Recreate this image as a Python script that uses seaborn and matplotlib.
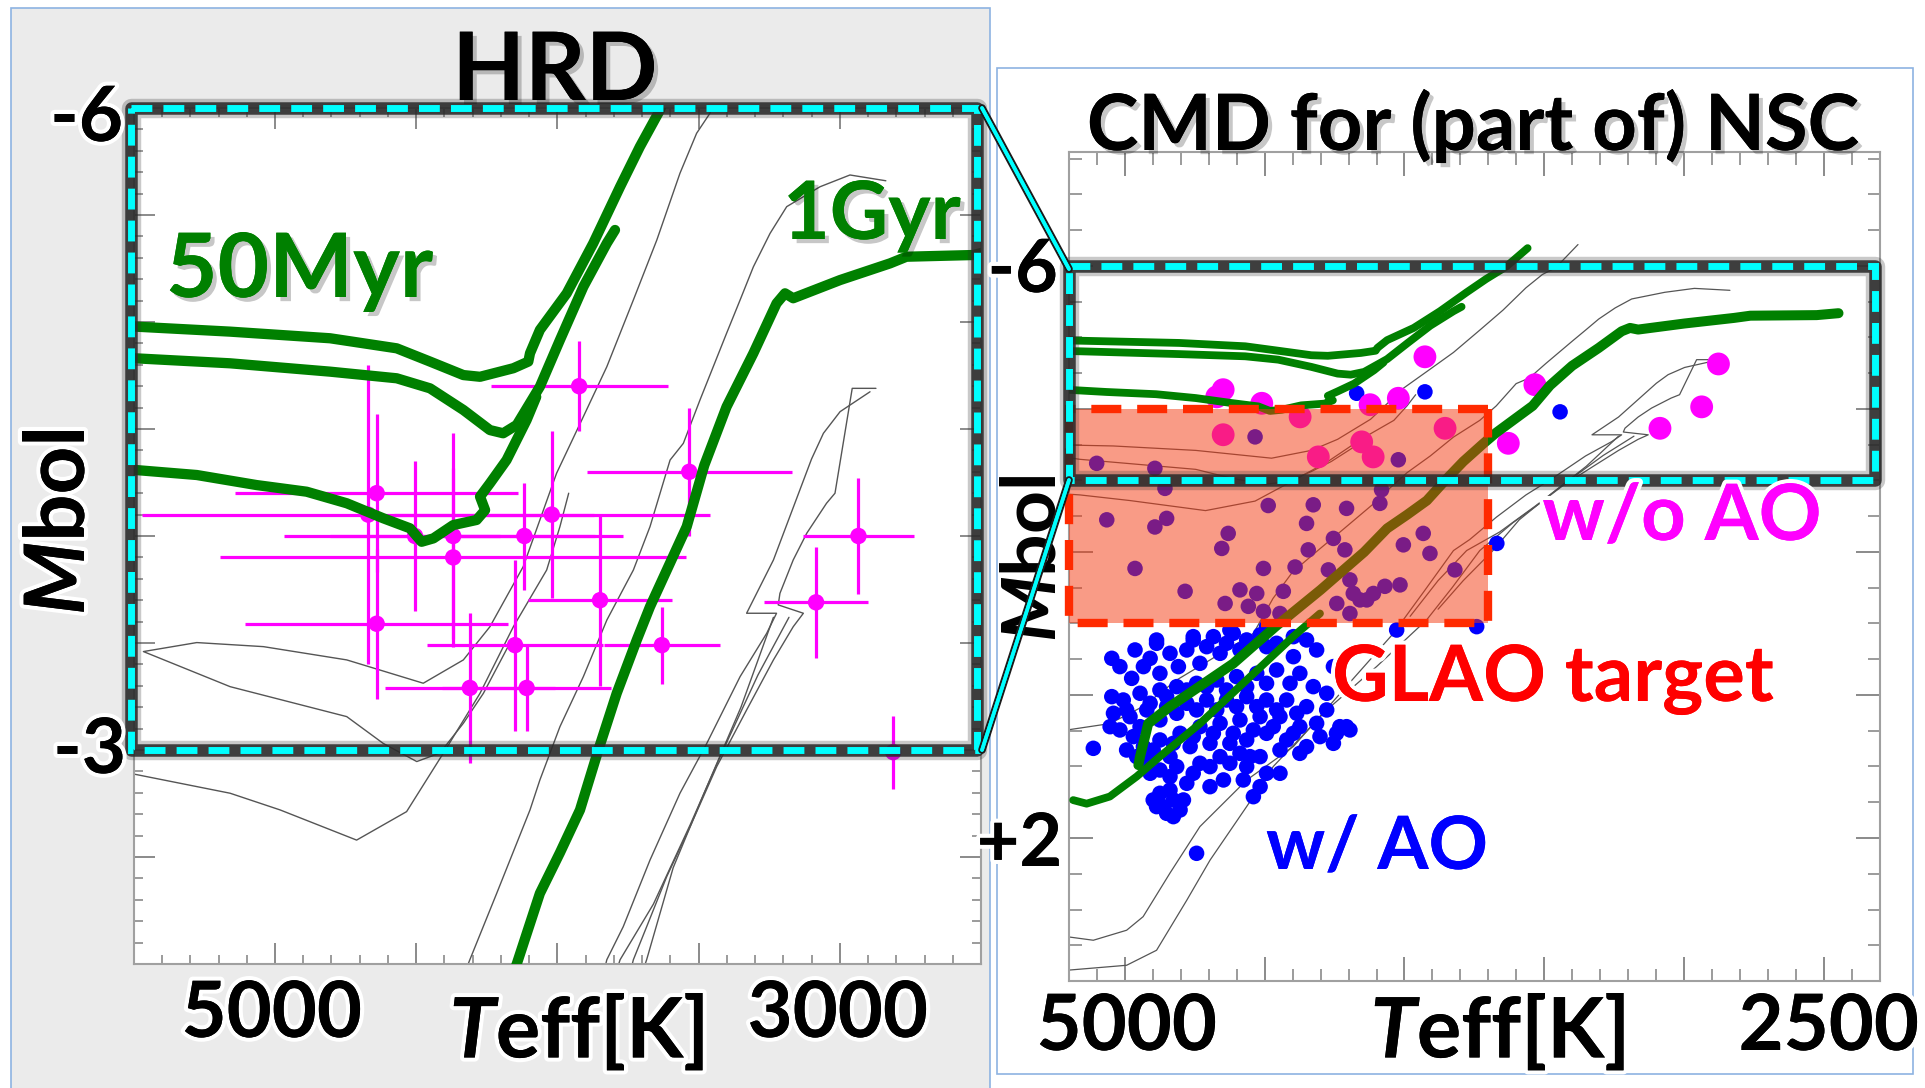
import matplotlib
matplotlib.use("Agg")
import numpy as np
import pandas as pd
import matplotlib.pyplot as plt
import seaborn as sns
import matplotlib.patheffects as pe
from matplotlib.patches import Rectangle
from matplotlib.lines import Line2D
from matplotlib.ticker import MultipleLocator

# ---------------------------------------------------------------- data
# 50 Myr isochrones (Teff [K], Mbol)
iso50a_T = [5520, 5490, 5159, 4805, 4569, 4451, 4333, 4274, 4156, 4103, 4097, 4062, 3967, 3873, 3778, 3708, 3637, 3560]
iso50a_M = [-4.98, -4.978, -4.955, -4.924, -4.877, -4.815, -4.752, -4.744, -4.784, -4.815, -4.854, -4.963, -5.134, -5.368, -5.632, -5.819, -5.99, -6.25]
iso50b_T = [5520, 5490, 5159, 4805, 4569, 4451, 4333, 4239, 4192, 4144, 4062, 3991, 3908, 3825, 3796]
iso50b_M = [-4.832, -4.830, -4.807, -4.768, -4.737, -4.690, -4.589, -4.495, -4.480, -4.519, -4.698, -4.916, -5.165, -5.368, -5.430]
iso50c_T = [5520, 5490, 5277, 5065, 4888, 4746, 4617, 4522, 4481, 4439, 4369, 4286, 4256, 4274, 4239, 4180, 4109, 4075]
iso50c_M = [-4.31, -4.308, -4.285, -4.238, -4.207, -4.153, -4.083, -4.036, -3.973, -3.989, -4.051, -4.075, -4.121, -4.184, -4.246, -4.355, -4.542, -4.65]
# 1 Gyr isochrone
iso1g_T = [2449, 2527, 2764, 2822, 2999, 3165, 3194, 3224, 3306, 3401, 3480, 3542, 3672, 3719, 3790, 3855, 3920, 3991,
           4062, 4144, 4300, 4460, 4612, 4838, 4916, 4927, 4945, 4951]
iso1g_M = [-5.34, -5.313, -5.305, -5.274, -5.196, -5.111, -5.134, -5.087, -4.854, -4.604, -4.33, -4.044, -3.670, -3.514,
           -3.265, -3.0, -2.72, -2.52, -2.33, -2.0, -1.47, -0.96, -0.44, 0.16, 0.40, 0.58, 0.86, 0.98]
iso1g_b_T = [5184, 5136, 5053, 4957, 4874, 4731, 4564, 4397, 4302]
iso1g_b_M = [1.47, 1.52, 1.42, 1.14, 0.86, 0.40, -0.21, -0.82, -1.14]

# thin grey model isochrones
grey1_T = [3380, 3460, 3507, 3566, 3648, 3731, 3825, 3908, 4003, 4121, 4239, 4333, 4475, 4746, 5041, 5277, 5466,
           5159, 4746, 4617, 4498, 4416, 4333, 4262, 4160]
grey1_M = [-6.3, -5.975, -5.882, -5.695, -5.383, -5.103, -4.791, -4.558, -4.293, -3.857, -3.576, -3.421, -3.312, -3.421,
           -3.483, -3.502, -3.460, -3.296, -3.156, -3.031, -2.946, -2.986, -3.125, -3.265, -3.52]
grey2_T = [2837, 2964, 3070, 3188, 3247, 3306, 3353, 3401, 3495, 3554, 3601, 3672, 3731, 3825, 3908, 3991, 4062, 4097,
           4215, 4310, 4400, 4470, 4540, 4695, 4814, 4934, 5053, 5207]
grey2_M = [-5.66, -5.687, -5.632, -5.539, -5.414, -5.258, -5.103, -4.947, -4.636, -4.433, -4.355, -4.044, -3.841, -3.607,
           -3.343, -3.109, -2.86, -2.72, -2.33, -2.02, -1.72, -1.35, -0.86, -0.49, -0.21, 0.16, 0.40, 0.49]
grey3_T = [5520, 5513, 5159, 4982, 4711, 4534, 4404, 4274, 4156, 4038, 3991, 3960]
grey3_M = [-2.90, -2.891, -2.798, -2.72, -2.579, -2.712, -2.985, -3.265, -3.576, -3.841, -4.044, -4.2]
grey4_T = [2893, 2999, 3058, 3100, 3235, 3330, 3224, 3259, 3353, 3471, 3566, 3672, 3767, 3825, 3930, 4040, 4219, 4397,
           4564, 4731, 4838, 4934, 4993, 5112, 5207]
grey4_M = [-4.674, -4.581, -4.48, -4.36, -3.888, -3.639, -3.639, -3.545, -3.343, -3.031, -2.798, -2.486, -2.174, -2.02,
           -1.45, -0.86, -0.07, 0.72, 1.19, 1.84, 2.49, 3.10, 3.29, 3.43, 3.38]
grey5_T = [2872, 2956, 3017, 3047, 3117, 3165, 3212, 3218, 3129, 3165, 3235, 3330, 3436, 3530, 3613, 3684, 3731, 3830,
           3921, 4099, 4278, 4469, 4564, 4695, 4778, 4886, 4993, 5207]
grey5_M = [-4.69, -4.69, -4.2, -4.153, -4.013, -3.888, -3.732, -3.678, -3.639, -3.576, -3.421, -3.187, -2.922, -2.642,
           -2.408, -2.174, -2.02, -1.5, -1.05, -0.40, 0.21, 1.00, 1.56, 2.31, 2.87, 3.57, 3.78, 3.85]
grey6_T = [3180, 3290, 3420, 3530, 3660, 3778, 3880, 3980]
grey6_M = [-3.62, -3.35, -2.98, -2.65, -2.28, -2.02, -1.6, -1.1]
grey7_T = [3235, 3350, 3480, 3590, 3684, 3790, 3880]
grey7_M = [-3.62, -3.2, -2.8, -2.45, -2.02, -1.6, -1.2]

# HRD stars with error bars (left panel)
hrd_T = [4640, 4369, 4369, 4117, 4020, 4640, 4150, 4310, 4109, 4504, 4670, 3849, 3630, 3923, 3533, 2934, 3084, 2811]
hrd_M = [-4.20, -4.00, -3.90, -4.00, -4.10, -3.59, -3.49, -3.29, -3.29, -4.00, -4.10, -3.70, -3.49, -4.70, -4.30, -4.00, -3.69, -2.99]
hrd_Terr = [500, 600, 825, 250, 560, 465, 310, 300, 300, 300, 800, 255, 206, 313, 363, 195, 185, 0]
hrd_Merr = [0.37, 0.48, 0.42, 0.25, 0.39, 0.35, 0.40, 0.35, 0.20, 0.35, 0.70, 0.40, 0.18, 0.21, 0.30, 0.27, 0.26, 0.17]

# CMD stars without AO (magenta)
noao_T = [3927, 4648, 4671, 4510, 4373, 4123, 4022, 4648, 4308, 4153, 4112, 3855, 3534, 3629, 2878, 2938, 3087]
noao_M = [-4.73, -4.27, -4.17, -4.08, -3.89, -4.06, -4.15, -3.64, -3.33, -3.54, -3.33, -3.73, -4.34, -3.52, -4.63, -4.03, -3.73]

# CMD stars with AO (blue)
ao_T = [5046, 4963, 4886, 4909, 4755, 4683, 4612, 4516, 4397, 4314, 4975, 4874, 4808, 4731, 4659, 4588, 4493, 4397,
        5046, 5005, 4945, 4874, 4814, 4743, 4671, 4600, 4528, 4457, 4374, 4278, 5040, 4981, 4921, 4850, 4778, 4707,
        4636, 4564, 4493, 4421, 4350, 4278, 4207, 5112, 5017, 4969, 4933, 4874, 4802, 4731, 4659, 4588, 4516, 4445,
        4374, 4302, 4254, 4993, 4921, 4838, 4766, 4695, 4624, 4564, 4493, 4421, 4350, 4874, 4814, 4731, 4659, 4588,
        4552, 4493, 4647, 4778, 4874, 4826, 4886, 4850, 4802, 4540, 4743, 4231,
        4886, 4755, 4624, 4493, 4028, 3742, 4171, 3927, 3444, 3670,
        5100, 4892, 4856, 5064, 4892, 4850, 4630, 4653, 4487, 4326, 4207, 4088, 4082, 4350, 4254, 4344, 4213, 4963,
        4504, 4391, 4272, 4784, 4588, 4528, 4433, 4641, 4558, 4504, 4445, 4004, 3933, 3909, 3820, 4022, 4534, 4195,
        4183, 4159, 4111, 4070, 4016, 4135, 4242, 4195,
        5017, 4933, 4838, 4778, 4707, 4636, 4564, 4457, 4350, 4254, 4326, 4409, 4493, 4564, 4636, 4707, 4778, 4850,
        4909, 4993, 5052, 4945, 4874, 4814, 4743, 4671, 4600, 4528, 4457, 4385, 4314, 4243, 4195, 4397, 4469, 4540,
        4612, 4683, 4755, 4826, 4898, 4957, 4909, 4838, 4755, 4695, 4624, 4516, 4445, 4374, 4564, 4695, 4838, 4898,
        4790, 4862, 4826, 4516, 4445, 4576]
ao_M = [-0.513, -0.630, -0.723, -0.513, -0.770, -0.816, -0.863, -0.840, -0.816, -0.630, -0.233, -0.303, -0.397, -0.443,
        -0.583, -0.630, -0.676, -0.536, 0.023, 0.070, -0.024, -0.070, -0.117, -0.163, -0.210, -0.257, -0.303, -0.350,
        -0.303, -0.024, 0.256, 0.303, 0.209, 0.163, 0.116, 0.070, 0.070, 0.023, 0.070, 0.070, 0.163, 0.209, 0.443,
        0.746, 0.489, 0.582, 0.722, 0.629, 0.536, 0.443, 0.396, 0.349, 0.303, 0.303, 0.443, 0.582, 0.676, 0.769,
        0.909, 0.862, 0.722, 0.676, 0.676, 0.629, 0.536, 0.629, 0.722, 1.049, 1.002, 0.955, 0.862, 0.816, 0.862,
        1.095, 1.188, 1.235, 1.375, 1.468, 1.561, 1.655, 1.608, 1.422, 2.214, 0.443,
        -0.769, -0.816, -0.909, -0.956, -0.909, -0.956, -4.22, -4.24, -3.96, -2.12,
        -3.24, -3.17, -2.89, -2.45, -2.35, -2.47, -2.26, -2.05, -2.65, -2.66, -2.61, -2.68, -2.87, -2.40, -2.19,
        -2.03, -2.03, -1.77, -1.77, -1.79, -1.75, -1.45, -1.47, -1.42, -1.45, -1.28, -1.24, -1.17, -1.14, -2.10,
        -2.26, -1.98, -1.75, -3.29, -3.61, -1.61, -1.42, -1.33, -1.42, -1.52, -1.54, -1.33, -1.28, -1.14,
        -0.397, -0.397, -0.583, -0.630, -0.676, -0.723, -0.770, -0.723, -0.770, -0.397, -0.117, -0.163, -0.163,
        -0.117, -0.070, -0.117, -0.070, 0.023, 0.116, 0.209, 0.443, 0.443, 0.349, 0.256, 0.209, 0.209, 0.163,
        0.163, 0.209, 0.256, 0.396, 0.536, 0.489, 0.536, 0.443, 0.489, 0.536, 0.536, 0.582, 0.676, 0.769, 0.862,
        1.095, 1.142, 1.095, 1.002, 0.955, 0.862, 0.769, 0.816, 1.002, 1.282, 1.329, 1.468, 1.468, 1.561, 1.701,
        1.282, 1.095, 1.188]

# GLAO target region (Teff range, Mbol range) and zoom window
glao_T = [5200, 3700]
glao_M = [-4.0, -1.0]
zoom_M = [-6.0, -3.0]

# ---------------------------------------------------------------- style
sns.set_theme(style="white")
plt.rcParams['font.family'] = ['Lato', 'DejaVu Sans']
plt.rcParams['font.weight'] = 'bold'
plt.rcParams['mathtext.fontset'] = 'custom'
plt.rcParams['mathtext.it'] = 'Lato:italic:bold'
plt.rcParams['mathtext.rm'] = 'Lato:bold'
plt.rcParams['mathtext.bf'] = 'Lato:bold'

W, H = 1925, 1088
fig = plt.figure(figsize=(W / 100, H / 100), dpi=100)
fig.patch.set_facecolor('white')


def fx(x):
    return x / W


def fy(y):
    return 1 - y / H


GREEN = '#008000'
shadow = [pe.withSimplePatchShadow(offset=(3, -3), shadow_rgbFace=(0, 0, 0), alpha=0.22), pe.Normal()]
halo = [pe.withStroke(linewidth=6, foreground='white'), pe.Normal()]

# slide panels
fig.add_artist(Rectangle((fx(11), fy(1090)), (990 - 11) / W, (1090 - 8) / H, facecolor='#ebebeb',
                         edgecolor='#8db3e2', lw=1.2, zorder=-10))
fig.add_artist(Rectangle((fx(997), fy(1074)), (1913 - 997) / W, (1074 - 68) / H, facecolor='white',
                         edgecolor='#8db3e2', lw=1.2, zorder=-9))

axL = fig.add_axes([133.8 / W, fy(964), (981 - 133.8) / W, (964 - 108) / H])
axR = fig.add_axes([1068.7 / W, fy(981), (1880.2 - 1068.7) / W, (981 - 151.6) / H])


def iso(ax, T, M, color, lw, z):
    df = pd.DataFrame({'T': T, 'M': M})
    sns.lineplot(data=df, x='T', y='M', sort=False, estimator=None, color=color, lw=lw, ax=ax,
                 zorder=z, solid_capstyle='round', solid_joinstyle='round', legend=False)


greys = [(grey1_T, grey1_M), (grey2_T, grey2_M), (grey3_T, grey3_M), (grey4_T, grey4_M),
         (grey5_T, grey5_M), (grey6_T, grey6_M), (grey7_T, grey7_M)]

# ---------------------------------------------------------------- left: HRD
for T, M in greys:
    iso(axL, T, M, '#555555', 1.0, 2)
axL.errorbar(hrd_T, hrd_M, xerr=hrd_Terr, yerr=hrd_Merr, fmt='none', ecolor='#ff00ff',
             elinewidth=2.3, capsize=0, zorder=3)
sns.scatterplot(x=hrd_T, y=hrd_M, color='#ff00ff', s=140, edgecolor='none', ax=axL, zorder=3.5)
for T, M in [(iso50a_T, iso50a_M), (iso50b_T, iso50b_M), (iso50c_T, iso50c_M), (iso1g_T, iso1g_M), (iso1g_b_T, iso1g_b_M)]:
    iso(axL, T, M, GREEN, 7.4, 4)

axL.set_xlim(5500, 2500)
axL.set_ylim(-2.0, -6.0)

# ---------------------------------------------------------------- right: CMD
for T, M in greys:
    iso(axR, T, M, '#555555', 0.9, 2)
sns.scatterplot(x=ao_T, y=ao_M, color='#0000ff', s=125, edgecolor='none', ax=axR, zorder=3)
sns.scatterplot(x=noao_T, y=noao_M, color='#ff00ff', s=270, edgecolor='none', ax=axR, zorder=3.2)
for T, M in [(iso50a_T, iso50a_M), (iso50b_T, iso50b_M), (iso50c_T, iso50c_M), (iso1g_b_T, iso1g_b_M)]:
    iso(axR, T, M, GREEN, 5.6, 4)
iso(axR, iso1g_T, iso1g_M, GREEN, 7.2, 4)

axR.set_xlim(5200, 2300)
axR.set_ylim(4.0, -7.6)

# GLAO target box
axR.add_patch(Rectangle((glao_T[1], glao_M[0]), glao_T[0] - glao_T[1], glao_M[1] - glao_M[0],
                        facecolor=(0.96, 0.22, 0.06, 0.5), edgecolor='none', zorder=6))
axR.add_patch(Rectangle((glao_T[1], glao_M[0]), glao_T[0] - glao_T[1], glao_M[1] - glao_M[0],
                        fill=False, edgecolor='#ff2a00', lw=6, linestyle=(0, (3.6, 1.9)), zorder=6.5,
                        clip_on=False))


def cyan_box(ax, x0, x1):
    tr = ax.get_yaxis_transform()
    y0, y1 = zoom_M
    for lw, a in [(14, 0.25), (9, 0.88)]:
        ax.add_patch(Rectangle((x0, y0), x1 - x0, y1 - y0, transform=tr, fill=False, edgecolor='#2b2b2b',
                               lw=lw, alpha=a, clip_on=False, zorder=8, joinstyle='round'))
    ax.add_patch(Rectangle((x0, y0), x1 - x0, y1 - y0, transform=tr, fill=False, edgecolor='#00ffff',
                           lw=5, linestyle=(0, (3, 1.6)), clip_on=False, zorder=9))


cyan_box(axL, -0.003, 0.995)
cyan_box(axR, 0.0, 0.9936)

# axes cosmetics
for ax, (maj, mnr), (ymaj, ymnr), (L1, L2) in [(axL, (500, 100), (0.5, 0.1), (15, 6.5)),
                                               (axR, (500, 100), (2, 0.5), (17, 9))]:
    ax.set_facecolor('white')
    ax.set_xlabel('')
    ax.set_ylabel('')
    ax.xaxis.set_major_locator(MultipleLocator(maj))
    ax.xaxis.set_minor_locator(MultipleLocator(mnr))
    ax.yaxis.set_major_locator(MultipleLocator(ymaj))
    ax.yaxis.set_minor_locator(MultipleLocator(ymnr))
    ax.tick_params(which='both', direction='in', top=True, right=True, bottom=True, left=True,
                   labelbottom=False, labelleft=False, colors='#8a8a8a')
    ax.tick_params(which='major', length=L1, width=1.4)
    ax.tick_params(which='minor', length=L2, width=1.2)
    for s in ax.spines.values():
        s.set_color('#a0a0a0')
        s.set_linewidth(1.5)

# connector lines
for (x0, y0), (x1, y1) in [((982, 108), (1069, 269)), ((982, 750), (1069, 480))]:
    fig.add_artist(Line2D([fx(x0), fx(x1)], [fy(y0), fy(y1)], color='#00ffff', lw=2.6, zorder=5,
                          path_effects=[pe.withStroke(linewidth=5.5, foreground='#1a1a1a'), pe.Normal()]))

# ---------------------------------------------------------------- texts
def ftxt(x, y, s, size, color='black', ha='center', va='baseline', rot=0, fx_=None, z=3):
    fig.text(fx(x), fy(y), s, fontsize=size, color=color, ha=ha, va=va, rotation=rot,
             fontweight='bold', path_effects=fx_, zorder=z)


ftxt(555, 100, 'HRD', 68, fx_=shadow)
ftxt(123, 141, '-6', 55, ha='right', fx_=halo)
ftxt(126, 773, '-3', 55, ha='right', fx_=halo)
ftxt(272, 1037, '5000', 56, fx_=halo)
ftxt(838, 1037, '3000', 56, fx_=halo)
ftxt(577, 1058, r'$\mathit{T}$eff[K]', 60, fx_=halo)
ftxt(61, 522, r'$\mathit{M}$bol', 60, va='center', rot=90, fx_=halo)

axL.text(fx(166), fy(297), '50Myr', transform=fig.transFigure, fontsize=64, color=GREEN, fontweight='bold',
         ha='left', va='baseline', path_effects=shadow, zorder=6, clip_on=False)
axL.text(fx(783), fy(239), '1Gyr', transform=fig.transFigure, fontsize=58, color=GREEN, fontweight='bold',
         ha='left', va='baseline', path_effects=shadow, zorder=6, clip_on=False)

ftxt(1473, 150, 'CMD for (part of) NSC', 56, fx_=shadow)
ftxt(1058, 292, '-6', 53, ha='right', fx_=halo)
ftxt(1062, 866, '+2', 53, ha='right', fx_=halo)
ftxt(1127, 1050, '5000', 56, fx_=halo)
ftxt(1829, 1050, '2500', 56, fx_=halo)
ftxt(1498, 1058, r'$\mathit{T}$eff[K]', 60, fx_=halo)
ftxt(1034, 558, r'$\mathit{M}$bol', 54, va='center', rot=90, z=1)
ftxt(1682, 540, 'w/o AO', 56, color='#ff00ff', fx_=halo)
ftxt(1553, 701, 'GLAO target', 56, color='#ff0000', fx_=halo)
ftxt(1377, 869, 'w/ AO', 53, color='#0000ff', fx_=halo)

fig.savefig('out.png', dpi=100, facecolor='white')
